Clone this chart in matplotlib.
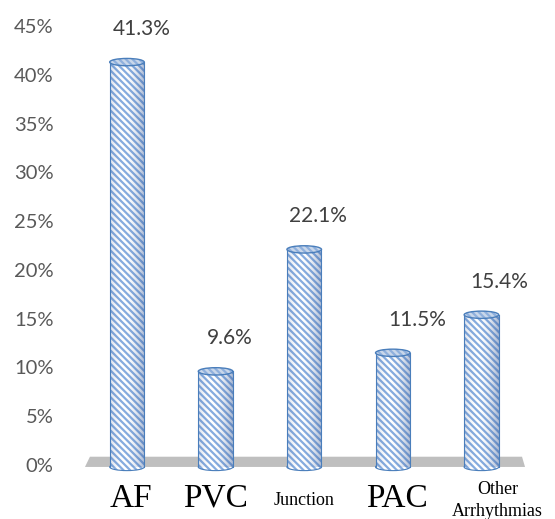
import numpy as np
import matplotlib
matplotlib.use("Agg")
import matplotlib.pyplot as plt
from matplotlib.patches import Rectangle, Ellipse, Polygon

plt.rcParams['font.family'] = ['Lato', 'DejaVu Sans']
plt.rcParams['hatch.linewidth'] = 1.6

# data
categories = ["AF", "PVC", "Junction", "PAC", "Other\nArrhythmias"]
values = [41.3, 9.6, 22.1, 11.5, 15.4]
yticks = [0, 5, 10, 15, 20, 25, 30, 35, 40, 45]

# style / layout
cat_sizes = [24, 24, 13, 24, 13]
cat_dx = [0.05, 0.0, 0.0, 0.05, 0.18]
lab_dx = [0.17, 0.16, 0.16, 0.27, 0.2]
bar_w = 0.39
ell_h = 0.75
hatch = '\\\\\\\\\\'
stripe = '#86acdf'
edge = '#4a7ebb'

fig = plt.figure(figsize=(5.55, 5.19), dpi=100)
ax = fig.add_axes([52 / 555, 54 / 519, 488 / 555, 439 / 519])

x = np.arange(len(values))

# floor
floor = Polygon([(-0.474, -0.2), (4.492, -0.2), (4.458, 0.85), (-0.418, 0.85)],
                closed=True, facecolor='#bfbfbf', edgecolor='none', zorder=1, clip_on=False)
ax.add_patch(floor)

# horizontal shading for the cylinders
t = np.linspace(0, 1, 200)
shade = np.zeros((1, 200, 4))
shade[0, :, 0] = 0.22
shade[0, :, 1] = 0.36
shade[0, :, 2] = 0.6
shade[0, :, 3] = 0.45 * (np.abs(t - 0.4) / 0.6) ** 2

for xi, v in zip(x, values):
    x0 = xi - bar_w / 2
    bot = Ellipse((xi, -0.2), bar_w, ell_h, facecolor='white', edgecolor=stripe,
                  hatch=hatch, lw=0, zorder=2, clip_on=False)
    ax.add_patch(bot)
    ax.add_patch(Ellipse((xi, -0.2), bar_w, ell_h, facecolor='none', edgecolor=edge,
                         lw=0.8, zorder=2, clip_on=False))
    rect = Rectangle((x0, -0.2), bar_w, v + 0.2, facecolor='white', edgecolor=stripe,
                     hatch=hatch, lw=0, zorder=3, clip_on=False)
    ax.add_patch(rect)
    im = ax.imshow(shade, extent=[x0, x0 + bar_w, -0.2, v], aspect='auto', zorder=4)
    im.set_clip_path(rect)
    ax.plot([x0, x0], [-0.2, v], color=edge, lw=0.8, zorder=5, clip_on=False)
    ax.plot([x0 + bar_w, x0 + bar_w], [-0.2, v], color=edge, lw=0.8, zorder=5, clip_on=False)
    top = Ellipse((xi, v), bar_w, ell_h, facecolor='#c9d7ea', edgecolor='#8fb0dd',
                  hatch=hatch, lw=0, zorder=6)
    ax.add_patch(top)
    ax.add_patch(Ellipse((xi, v), bar_w, ell_h, facecolor='none', edgecolor=edge,
                         lw=1.0, zorder=7))

# value labels
for xi, v, dx in zip(x, values, lab_dx):
    ax.text(xi + dx, v + 3.4, f"{v:.1f}%", ha='center', va='center',
            fontsize=15, color='#404040', zorder=8)

# category labels
for xi, c, s, dx in zip(x, categories, cat_sizes, cat_dx):
    if "\n" in c:
        ax.text(xi + dx, -1.6, c, ha='center', va='top', fontsize=s,
                family='Liberation Serif', linespacing=1.45, clip_on=False)
    else:
        ax.text(xi + dx, -4.3 if s > 20 else -4.1, c, ha='center', va='baseline',
                fontsize=s, family='Liberation Serif', clip_on=False)

ax.set_xlim(-0.846, 4.661)
ax.set_ylim(0, 45)
ax.set_yticks(yticks)
ax.set_yticklabels([f"{t}%" for t in yticks])
ax.set_xticks([])
ax.tick_params(axis='y', length=0, pad=-1, labelsize=14.5, labelcolor='#595959')
for s in ax.spines.values():
    s.set_visible(False)

fig.savefig("out.png", dpi=100)
